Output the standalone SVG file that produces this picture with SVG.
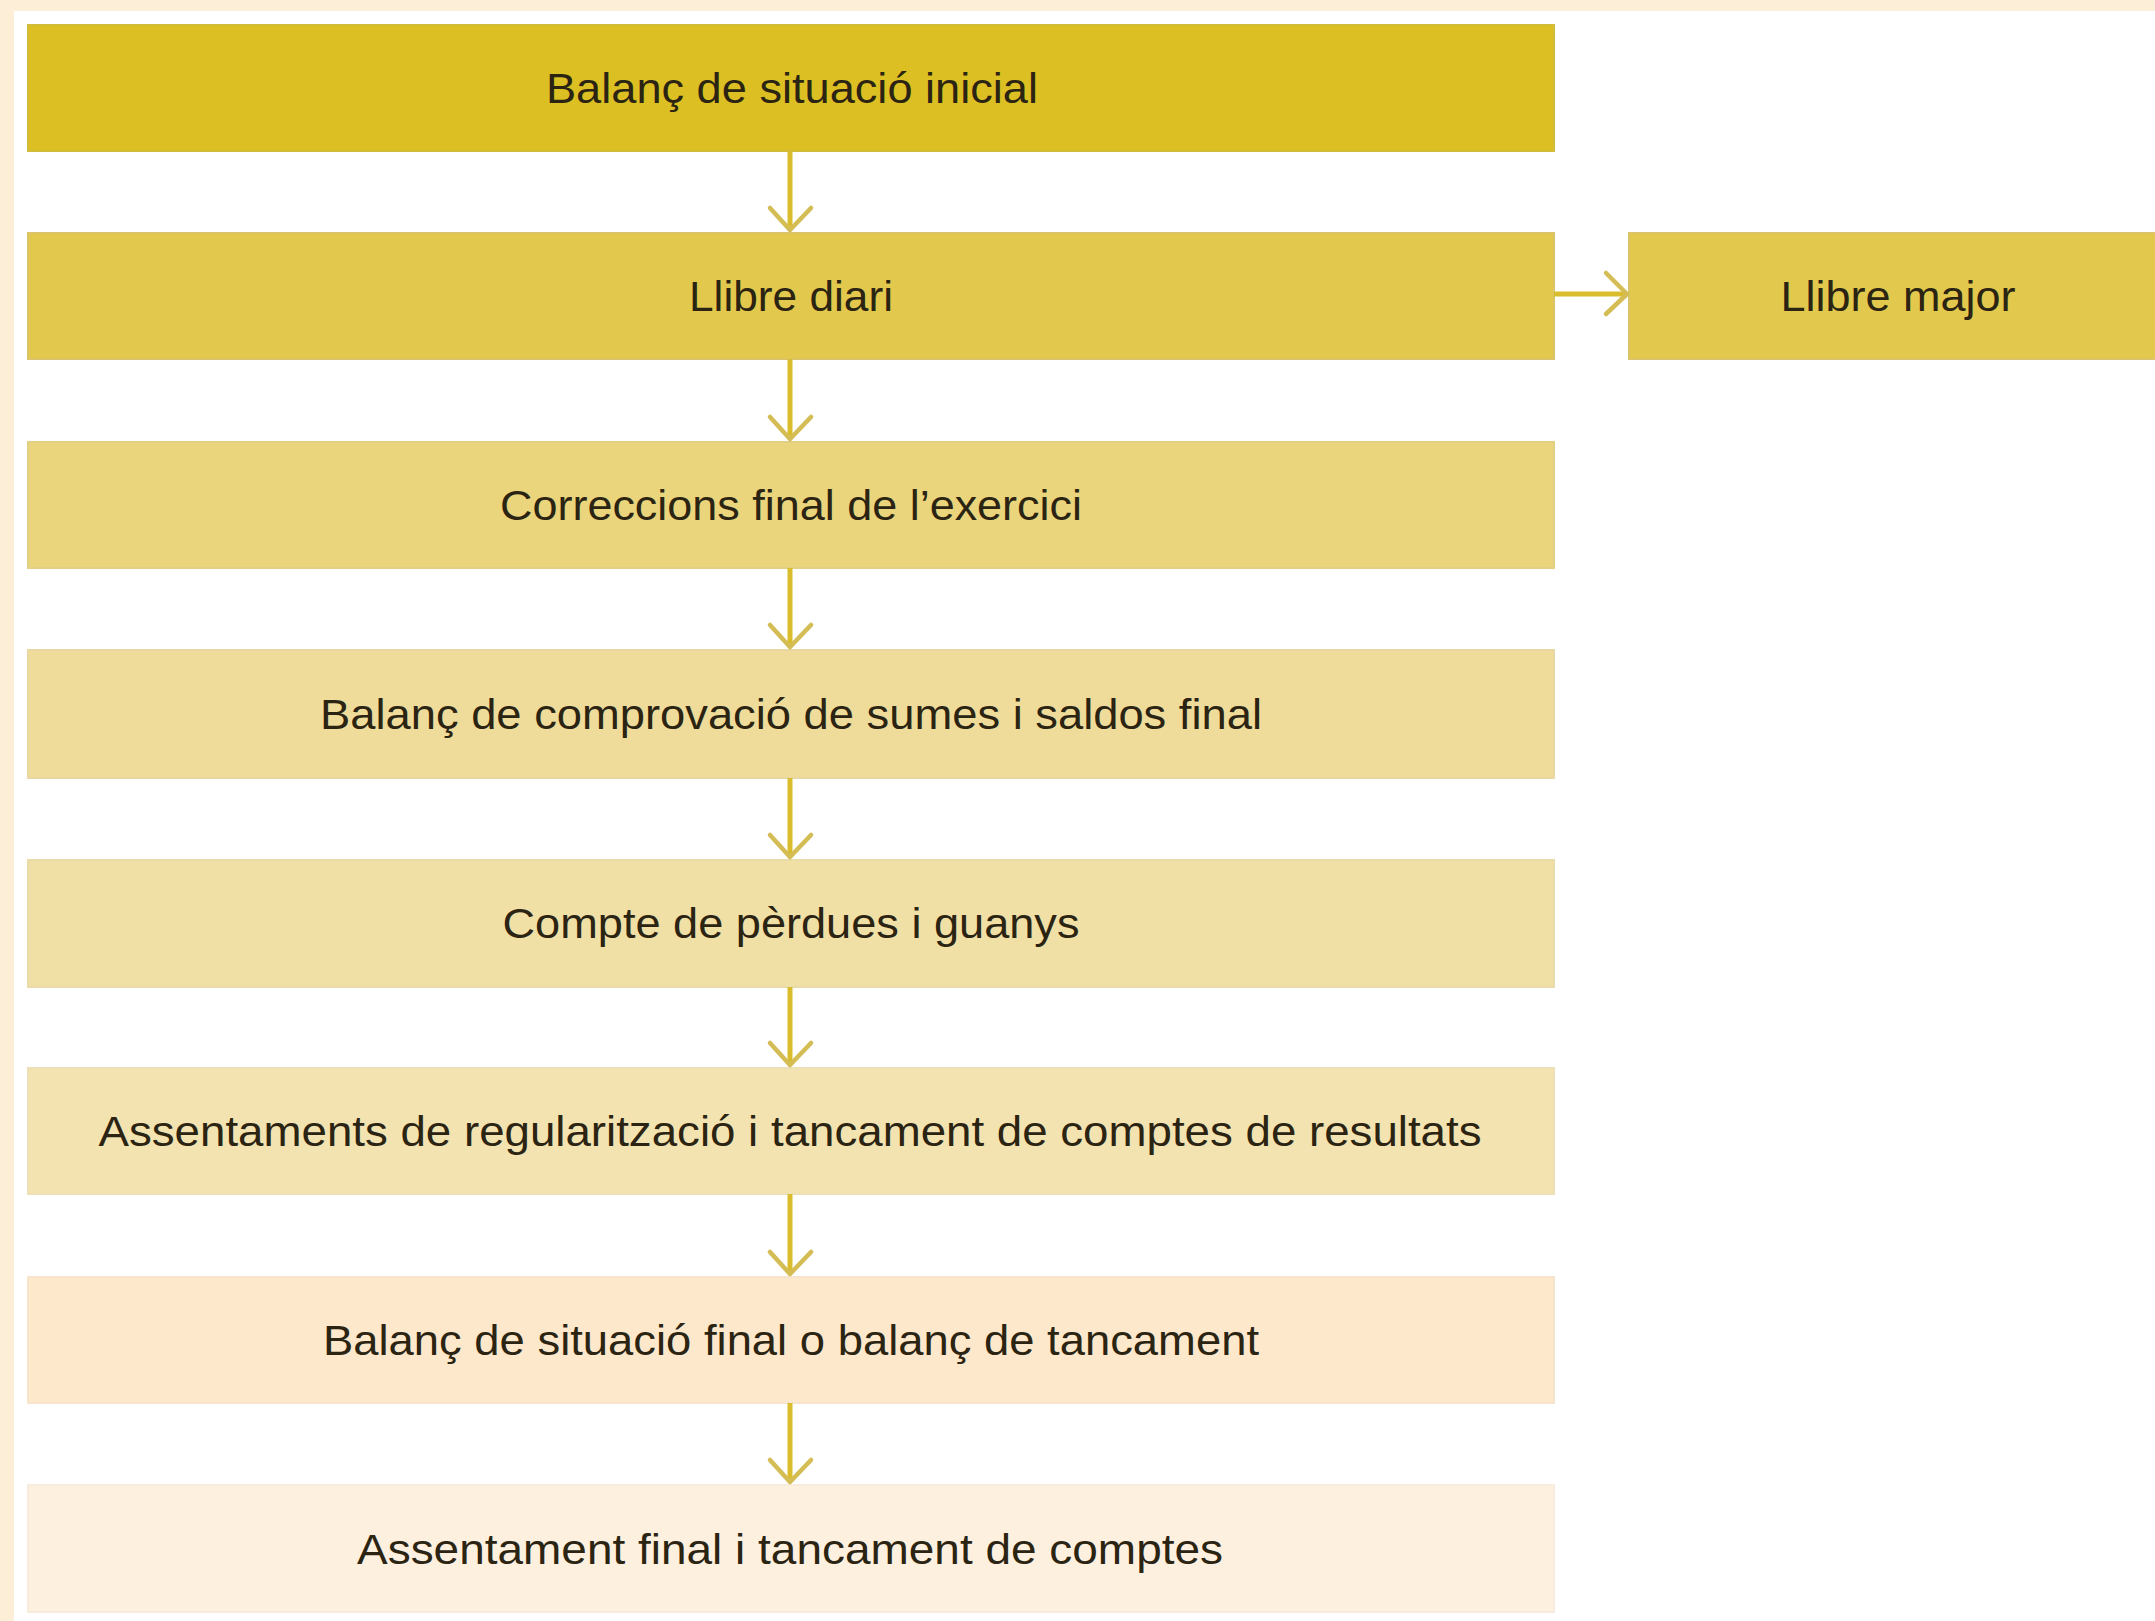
<svg xmlns="http://www.w3.org/2000/svg" width="2155" height="1621" viewBox="0 0 2155 1621">
<defs>
<style>
.box{stroke-width:2}
.lbl{font-family:"Liberation Sans",Arial,sans-serif;font-size:42px;fill:#2b2412;text-anchor:middle}
.ln{stroke:#dabd2c;stroke-width:5;fill:none}
.hd{stroke:#d4bd55;stroke-width:4.5;fill:none;stroke-linecap:round;stroke-linejoin:round}
</style>
</defs>
<rect x="0" y="0" width="2155" height="1621" fill="#fdeed8"/>
<rect x="14" y="11" width="2141" height="1610" fill="#ffffff"/>

<g id="n1"><rect class="box" x="28" y="25" width="1526" height="126" fill="#dcbf22" stroke="#d3bb3a"/><text class="lbl" x="792" y="103" textLength="492" lengthAdjust="spacingAndGlyphs">Balanç de situació inicial</text></g>
<g id="n2"><rect class="box" x="28" y="233" width="1526" height="126" fill="#e2c84c" stroke="#dac467"/><text class="lbl" x="791" y="311" textLength="204" lengthAdjust="spacingAndGlyphs">Llibre diari</text></g>
<g id="n9"><rect class="box" x="1629" y="233" width="540" height="126" fill="#e2c84c" stroke="#dac467"/><text class="lbl" x="1898" y="311" textLength="235" lengthAdjust="spacingAndGlyphs">Llibre major</text></g>
<g id="n3"><rect class="box" x="28" y="442" width="1526" height="126" fill="#ead47c" stroke="#e2cf86"/><text class="lbl" x="791" y="520" textLength="582" lengthAdjust="spacingAndGlyphs">Correccions final de l’exercici</text></g>
<g id="n4"><rect class="box" x="28" y="650" width="1526" height="128" fill="#efdc9a" stroke="#e8d7a0"/><text class="lbl" x="791" y="729" textLength="942" lengthAdjust="spacingAndGlyphs">Balanç de comprovació de sumes i saldos final</text></g>
<g id="n5"><rect class="box" x="28" y="860" width="1526" height="127" fill="#f1e0a6" stroke="#eadca9"/><text class="lbl" x="791" y="938" textLength="577" lengthAdjust="spacingAndGlyphs">Compte de pèrdues i guanys</text></g>
<g id="n6"><rect class="box" x="28" y="1068" width="1526" height="126" fill="#f3e3b0" stroke="#ede0b6"/><text class="lbl" x="790" y="1146" textLength="1383" lengthAdjust="spacingAndGlyphs">Assentaments de regularització i tancament de comptes de resultats</text></g>
<g id="n7"><rect class="box" x="28" y="1277" width="1526" height="126" fill="#fde8cb" stroke="#f6e4cc"/><text class="lbl" x="791" y="1355" textLength="936" lengthAdjust="spacingAndGlyphs">Balanç de situació final o balanç de tancament</text></g>
<g id="n8"><rect class="box" x="28" y="1485" width="1526" height="127" fill="#fdf0df" stroke="#f7ecdd"/><text class="lbl" x="790" y="1564" textLength="866" lengthAdjust="spacingAndGlyphs">Assentament final i tancament de comptes</text></g>

<g id="connectors">
<path class="ln" d="M790 151V230"/><path class="hd" d="M770 208L790 230L811 208"/>
<path class="ln" d="M790 359V439"/><path class="hd" d="M770 417L790 439L811 417"/>
<path class="ln" d="M790 568V647"/><path class="hd" d="M770 625L790 647L811 625"/>
<path class="ln" d="M790 778V857"/><path class="hd" d="M770 835L790 857L811 835"/>
<path class="ln" d="M790 987V1065"/><path class="hd" d="M770 1043L790 1065L811 1043"/>
<path class="ln" d="M790 1194V1274"/><path class="hd" d="M770 1252L790 1274L811 1252"/>
<path class="ln" d="M790 1403V1482"/><path class="hd" d="M770 1460L790 1482L811 1460"/>
<path class="ln" d="M1554 294H1627"/><path class="hd" d="M1606 273L1627 294L1606 314"/>
</g>
</svg>
